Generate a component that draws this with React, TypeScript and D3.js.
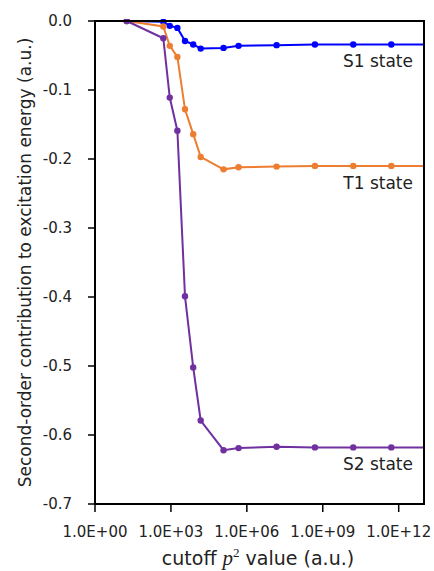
import React from "react";
import * as d3 from "d3";

// cutoff p^2 values (a.u.), shared by all three states
const cutoffs = [18, 500, 900, 1800, 3600, 7600, 15000, 1.2e5, 4.7e5, 1.5e7, 4.9e8, 1.6e10, 5.1e11, 1.7e13];

const s1State = [0, -0.001, -0.007, -0.01, -0.029, -0.034, -0.04, -0.039, -0.036, -0.035, -0.034, -0.034, -0.034, -0.034];
const t1State = [0, -0.008, -0.036, -0.052, -0.128, -0.164, -0.197, -0.215, -0.212, -0.211, -0.21, -0.21, -0.21, -0.21];
const s2State = [0, -0.025, -0.111, -0.159, -0.399, -0.502, -0.579, -0.622, -0.619, -0.617, -0.618, -0.618, -0.618, -0.618];

const xTicks = [1e0, 1e3, 1e6, 1e9, 1e12];
const xTickLabels = ["1.0E+00", "1.0E+03", "1.0E+06", "1.0E+09", "1.0E+12"];
const yTicks = [0, -0.1, -0.2, -0.3, -0.4, -0.5, -0.6, -0.7];

const series = [
  { name: "S1 state", values: s1State, color: "#0000FF" },
  { name: "T1 state", values: t1State, color: "#ED7D31" },
  { name: "S2 state", values: s2State, color: "#7030A0" },
];

const W = 434;
const H = 571;
const m = { left: 95, right: 10, top: 21, bottom: 67 };
const font = "'DejaVu Sans', Verdana, sans-serif";

export default function App() {
  const x = d3.scaleLog().domain([1, 1e13]).range([m.left, W - m.right]);
  const y = d3.scaleLinear().domain([-0.7, 0]).range([H - m.bottom, m.top]);

  const line = d3
    .line<number>()
    .x((_, i) => x(cutoffs[i]))
    .y((d) => y(d));

  const x0 = m.left;
  const x1 = W - m.right;
  const y0 = H - m.bottom;
  const y1 = m.top;

  return (
    <svg
      width={W}
      height={H}
      style={{ position: "fixed", left: 0, top: 0, background: "#fff" }}
    >
      <defs>
        <clipPath id="plot">
          <rect x={x0} y={y1 - 2} width={x1 - x0} height={y0 - y1 + 4} />
        </clipPath>
      </defs>

      {/* series */}
      <g clipPath="url(#plot)">
        {series.map((s) => (
          <g key={s.name}>
            <path d={line(s.values) ?? ""} fill="none" stroke={s.color} strokeWidth={2} />
            {s.values.map((v, i) => (
              <circle key={i} cx={x(cutoffs[i])} cy={y(v)} r={3.2} fill={s.color} />
            ))}
          </g>
        ))}
      </g>

      {/* frame */}
      <rect x={x0} y={y1} width={x1 - x0} height={y0 - y1} fill="none" stroke="#000" strokeWidth={2} />

      {/* y axis */}
      {yTicks.map((t) => (
        <g key={t}>
          <line x1={x0 - 7} x2={x0} y1={y(t)} y2={y(t)} stroke="#000" strokeWidth={1.5} />
          <text
            x={72}
            y={y(t)}
            dy="0.35em"
            textAnchor="end"
            fontFamily={font}
            fontSize={15}
            fill="#222"
          >
            {d3.format(".1f")(t).replace("−", "-")}
          </text>
        </g>
      ))}

      {/* x axis */}
      {xTicks.map((t, i) => (
        <g key={t}>
          <line x1={x(t)} x2={x(t)} y1={y0} y2={y0 + 8} stroke="#000" strokeWidth={1.5} />
          <text
            x={x(t)}
            y={y0 + 33}
            textAnchor="middle"
            fontFamily={font}
            fontSize={15}
            fill="#222"
          >
            {xTickLabels[i]}
          </text>
        </g>
      ))}

      {/* series labels */}
      {series.map((s) => (
        <text
          key={s.name}
          x={x1 - 11}
          y={y(s.values[s.values.length - 1]) + 23}
          textAnchor="end"
          fontFamily={font}
          fontSize={17}
          fill="#222"
        >
          {s.name}
        </text>
      ))}

      {/* axis titles */}
      <text x={258} y={H - 6} textAnchor="middle" fontFamily={font} fontSize={19} fill="#222">
        cutoff{" "}
        <tspan fontFamily="'Liberation Serif', serif" fontStyle="italic" fontSize={21}>
          p
        </tspan>
        <tspan fontFamily="'Liberation Serif', serif" fontSize={13} dy={-8}>
          2
        </tspan>
        <tspan dy={8}> value (a.u.)</tspan>
      </text>
      <text
        transform={`translate(31,${(y0 + y1) / 2}) rotate(-90)`}
        textAnchor="middle"
        fontFamily={font}
        fontSize={17}
        fill="#222"
      >
        Second-order contribution to excitation energy (a.u.)
      </text>
    </svg>
  );
}
